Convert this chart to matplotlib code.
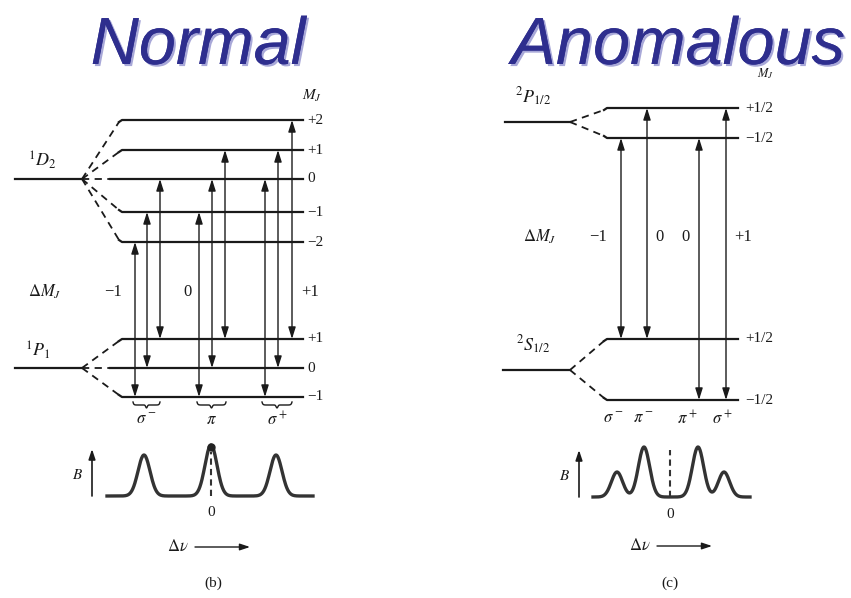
import numpy as np
import matplotlib
matplotlib.use('Agg')
import matplotlib.pyplot as plt
import matplotlib.patheffects as pe

plt.rcParams['mathtext.fontset'] = 'stix'
plt.rcParams['font.family'] = ['Liberation Serif', 'DejaVu Serif']

# ---- Normal Zeeman effect (1D2 -> 1P1) ----
normal_upper_m = ['+2', '+1', '0', '\u22121', '\u22122']
normal_upper_y = [120, 150, 179, 212, 242]
normal_lower_m = ['+1', '0', '\u22121']
normal_lower_y = [339, 368, 397]
# transitions: x, upper level index, lower level index
normal_trans_x = [135, 147, 160, 199, 212, 225, 265, 278, 292]
normal_trans_up = [4, 3, 2, 3, 2, 1, 2, 1, 0]
normal_trans_lo = [2, 1, 0, 2, 1, 0, 2, 1, 0]
normal_groups = [(133, 160, '$\\sigma^-$'), (197, 226, '$\\pi$'), (262, 292, '$\\sigma^+$')]
normal_dm = [(113, '\u22121'), (187, '0'), (310, '+1')]
normal_peaks_x = [144, 211, 276]
normal_peaks_h = [41, 51, 41]

# ---- Anomalous Zeeman effect (2P1/2 -> 2S1/2) ----
anom_upper_m = ['+1/2', '\u22121/2']
anom_upper_y = [108, 138]
anom_lower_m = ['+1/2', '\u22121/2']
anom_lower_y = [339, 400]
anom_trans_x = [621, 647, 699, 726]
anom_trans_up = [1, 0, 1, 0]
anom_trans_lo = [0, 0, 1, 1]
anom_labels = [(613, '$\\sigma^-$'), (643, '$\\pi^-$'), (687, '$\\pi^+$'), (722, '$\\sigma^+$')]
anom_dm = [(598, '\u22121'), (660, '0'), (685, '0'), (743, '+1')]
anom_peaks_x = [617, 644, 698, 724]
anom_peaks_h = [25, 50, 50, 25]

fig = plt.figure(figsize=(8.51, 5.98), dpi=100)
ax = fig.add_axes([0, 0, 1, 1])
ax.set_xlim(0, 851)
ax.set_ylim(598, 0)
ax.axis('off')

blk = '#1a1a1a'


def title(x, y, s):
    ax.text(x, y, s, fontsize=48, style='italic', family='Liberation Sans',
            color='#2e2e8e', ha='center', va='baseline',
            path_effects=[pe.withSimplePatchShadow(offset=(1.5, -1.5),
                                                   shadow_rgbFace='#a8a8d8', alpha=1),
                          pe.Normal()])


def levels(node, x0, x1, ys, ms, lx, start0=None):
    nx, ny = node
    for y, m in zip(ys, ms):
        xs = x0
        if start0 is not None and abs(y - ny) < 1:
            xs = start0
        bend = 2 if y < ny else (-2 if y > ny else 0)
        ax.plot([nx, xs - 3], [ny, y + bend], color=blk, lw=1.3, ls=(0, (4, 3)))
        ax.plot([xs - 3, xs, x1], [y + bend, y, y], color=blk, lw=1.6)
        ax.text(lx, y, m, fontsize=11, ha='left', va='center', color=blk)


def transition(x, y_top, y_bot):
    ax.annotate('', xy=(x, y_top), xytext=(x, y_bot),
                arrowprops=dict(arrowstyle='<|-|>,head_length=0.7,head_width=0.22',
                                color=blk, lw=1.0, shrinkA=0, shrinkB=0))


def brace(x0, x1, y):
    t = np.linspace(0, 1, 60)
    xs = x0 + (x1 - x0) * t
    d = np.minimum(t, 1 - t)
    ys = y + 3 * (1 - np.exp(-d * 40)) + 3 * np.exp(-((t - 0.5) / 0.04) ** 2)
    ax.plot(xs, ys, color=blk, lw=1.0)


def spectrum(x0, x1, base, px, ph, width, center, bx, dash_top, zero_y,
             dnu_x, dnu_y, lab_x, lab_y, lab):
    xs = np.linspace(x0, x1, 400)
    ys = np.full_like(xs, base, dtype=float)
    for p, h in zip(px, ph):
        ys -= h * np.exp(-((xs - p) / width) ** 2)
    ax.plot(xs, ys, color='#333333', lw=2.4)
    ax.plot([center, center], [base, dash_top], color='#333333', lw=1.5, ls=(0, (3, 2)))
    ax.text(center, zero_y, '0', fontsize=11, ha='center', va='center', color=blk)
    ax.annotate('', xy=(bx, base - 47), xytext=(bx, base),
                arrowprops=dict(arrowstyle='-|>,head_length=0.6,head_width=0.2',
                                color=blk, lw=1.2, shrinkA=0, shrinkB=0))
    ax.text(bx - 14, base - 21, '$B$', fontsize=11, ha='center', va='center', color=blk)
    ax.text(dnu_x, dnu_y, '$\\Delta\\nu$', fontsize=12, ha='center', va='center', color=blk)
    ax.annotate('', xy=(dnu_x + 72, dnu_y), xytext=(dnu_x + 17, dnu_y),
                arrowprops=dict(arrowstyle='-|>,head_length=0.6,head_width=0.2',
                                color=blk, lw=1.0, shrinkA=0, shrinkB=0))
    ax.text(lab_x, lab_y, lab, fontsize=11, ha='center', va='center', color=blk)


# ---------------- Normal ----------------
title(198, 64, 'Normal')
ax.text(312, 96, '$M_J$', fontsize=11, ha='center', va='center', color=blk)
ax.plot([15, 82], [179, 179], color=blk, lw=1.6)
ax.plot([15, 82], [368, 368], color=blk, lw=1.6)
levels((82, 179), 122, 303, normal_upper_y, normal_upper_m, 307, start0=113)
levels((82, 368), 122, 303, normal_lower_y, normal_lower_m, 307, start0=113)
ax.text(42, 160, '$^1D_2$', fontsize=13, ha='center', va='center', color=blk)
ax.text(38, 350, '$^1P_1$', fontsize=13, ha='center', va='center', color=blk)
ax.text(45, 292, '$\\Delta M_J$', fontsize=12, ha='center', va='center', color=blk)
for x, s in normal_dm:
    ax.text(x, 292, s, fontsize=12, ha='center', va='center', color=blk)
for x, iu, il in zip(normal_trans_x, normal_trans_up, normal_trans_lo):
    transition(x, normal_upper_y[iu], normal_lower_y[il])
for x0, x1, s in normal_groups:
    brace(x0, x1, 402)
    ax.text((x0 + x1) / 2, 420, s, fontsize=12, ha='center', va='center', color=blk)
spectrum(107, 313, 496, normal_peaks_x, normal_peaks_h, 8.5, 211, 92, 452, 512,
         178, 547, 213, 583, '(b)')
ax.plot([211], [447], 'o', color='#222222', ms=5)

# ---------------- Anomalous ----------------
title(678, 64, 'Anomalous')
ax.text(765, 74, '$M_J$', fontsize=9, ha='center', va='center', color=blk)
ax.plot([505, 570], [122, 122], color=blk, lw=1.6)
ax.plot([503, 570], [370, 370], color=blk, lw=1.6)
levels((570, 122), 607, 738, anom_upper_y, anom_upper_m, 745)
levels((570, 370), 607, 738, anom_lower_y, anom_lower_m, 745)
ax.text(533, 97, '$^2P_{1/2}$', fontsize=13, ha='center', va='center', color=blk)
ax.text(533, 345, '$^2S_{1/2}$', fontsize=13, ha='center', va='center', color=blk)
ax.text(540, 237, '$\\Delta M_J$', fontsize=12, ha='center', va='center', color=blk)
for x, s in anom_dm:
    ax.text(x, 237, s, fontsize=12, ha='center', va='center', color=blk)
for x, iu, il in zip(anom_trans_x, anom_trans_up, anom_trans_lo):
    transition(x, anom_upper_y[iu], anom_lower_y[il])
for x, s in anom_labels:
    ax.text(x, 419, s, fontsize=12, ha='center', va='center', color=blk)
spectrum(593, 750, 497, anom_peaks_x, anom_peaks_h, 8, 670, 579, 450, 515,
         640, 546, 670, 583, '(c)')

fig.savefig('out.png', dpi=100)
